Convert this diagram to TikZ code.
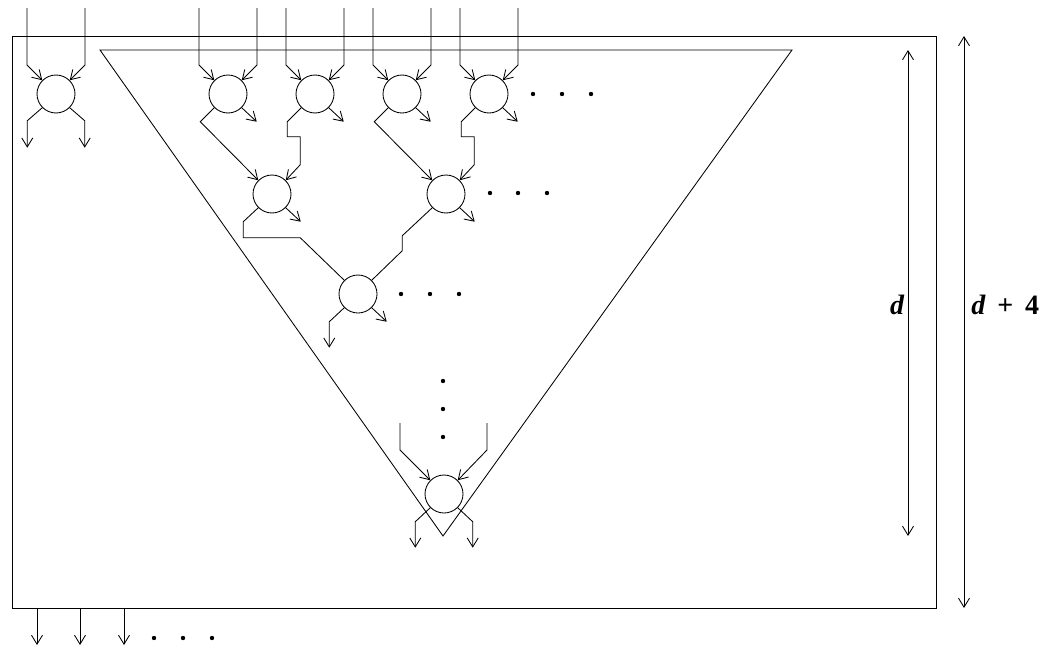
\documentclass[tikz,border=0pt]{standalone}
\usepackage{fontspec}
\setmainfont{Liberation Serif}
\usepackage{tikz}
\usetikzlibrary{calc}
\usetikzlibrary{arrows.meta}

\tikzset{
	pe/.style={circle,draw,minimum size=38pt,inner sep=0pt},
	dimlabel/.style={inner sep=0pt,font=\fontsize{28}{28}\selectfont\bfseries},
	>={Straight Barb[length=9pt,width=11pt]}
}

\begin{document}
\begin{tikzpicture}[x=1pt,y=-1pt,line width=0.85pt]
			\useasboundingbox (0,0) rectangle (1042,653);
			%print box and triangle
			\coordinate (A) at (12,36);
			\coordinate (B) at (936,608);
			\draw (A) rectangle (B);
			\coordinate (tl) at (100,50);
			\coordinate (tr) at (792,50);
			\coordinate (tip) at (443,536);
			\draw (tl)--(tr)--(tip)--cycle;
			%processing elements
			\node[pe] (T0) at (56,94) {};
			\node[pe] (T1) at (228,94) {};
			\node[pe] (T2) at (315,94) {};
			\node[pe] (T3) at (402,94) {};
			\node[pe] (T4) at (489,94) {};
			\node[pe] (L) at (272,194) {};
			\node[pe] (R) at (446,194) {};
			\node[pe] (M) at (358,294) {};
			\node[pe] (E) at (444,494) {};
			%inputs from above
			\foreach \n in {T0,T1,T2,T3,T4} {
				\draw[->] (\n) ++(-29,-86) -- ++(0,57) -- (\n.135);
				\draw[->] (\n) ++(29,-86) -- ++(0,57) -- (\n.45);
			}
			\draw[->] (E) ++(-44,-71) -- ++(0,27) -- (E.135);
			\draw[->] (E) ++(43,-71) -- ++(0,27) -- (E.45);
			%outputs to the right
			\foreach \n in {T1,T2,T3,T4,L,R,M} {
				\draw[->] (\n.-45) -- ++(15,14);
			}
			%outputs going out
			\draw[->] (T0.225) -- ++(-15,13) -- ++(0,27);
			\draw[->] (T0.-45) -- ++(15,13) -- ++(0,27);
			\draw[->] (M.225) -- ++(-15,14) -- ++(0,26);
			\draw[->] (E.225) -- ++(-15,14) -- ++(0,26);
			\draw[->] (E.-45) -- ++(15,14) -- ++(0,26);
			%tree links
			\draw[->] (T1.225) -- ++(-14,14) -- (L.135);
			\draw[->] (T2.225) -- ++(-14,14) -- ++(0,15) -- ++(13,0) -- ++(0,28) -- (L.45);
			\draw[->] (T3.225) -- ++(-14,14) -- (R.135);
			\draw[->] (T4.225) -- ++(-14,14) -- ++(0,15) -- ++(13,0) -- ++(0,28) -- (R.45);
			\draw (L.225) -- ++(-15,14) -- ++(0,16) -- ++(57,0) -- (M.135);
			\draw (R.225) -- ++(-30,28) -- ++(0,15) -- (M.45);
			%dots
			\foreach \x in {533,562,591} \fill (\x,94) circle (2.2);
			\foreach \x in {490,518,547} \fill (\x,193) circle (2.2);
			\foreach \x in {401,430,459} \fill (\x,294) circle (2.2);
			\foreach \y in {381,409,437} \fill (443,\y) circle (2.2);
			\foreach \x in {154,183,212} \fill (\x,638) circle (2.2);
			%outputs at the bottom
			\foreach \x in {37,80,124} {
				\coordinate (o\x) at (\x,608);
				\draw[->] (o\x) -- ++(0,37);
			}
			%dimensions
			\coordinate (dt) at (908,50);
			\coordinate (db) at (908,536);
			\draw[<->] (dt)--(db);
			\node[dimlabel,anchor=east] (dl) at (905,305) {\textit{d}};
			\coordinate (Dt) at (964,36);
			\coordinate (Db) at (964,608);
			\draw[<->] (Dt)--(Db);
			\node[dimlabel,anchor=west] (Dl) at (971,305) {\textit{d}\, + \,4};
		\end{tikzpicture}
\end{document}
